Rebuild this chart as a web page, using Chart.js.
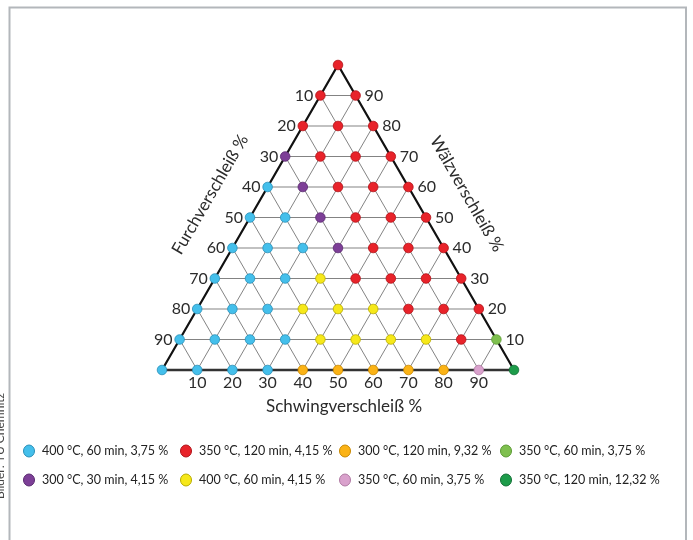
<!DOCTYPE html>
<html><head><meta charset="utf-8">
<script src="https://cdn.jsdelivr.net/npm/chart.js@4/dist/chart.umd.min.js"></script>
<style>html,body{margin:0;padding:0;background:#fff;}canvas{display:block;}</style>
</head><body>
<canvas id="c" width="693" height="540"></canvas>
<script>
// Points as [Furchverschleiß %, Schwingverschleiß %, Wälzverschleiß %]
const seriesLabels = [
  "400 °C, 60 min, 3,75 %", "350 °C, 120 min, 4,15 %", "300 °C, 120 min, 9,32 %", "350 °C, 60 min, 3,75 %",
  "300 °C, 30 min, 4,15 %", "400 °C, 60 min, 4,15 %", "350 °C, 60 min, 3,75 %", "350 °C, 120 min, 12,32 %"
];
const seriesColors = ["#44bfeb", "#e8232a", "#fbb316", "#7fc04f", "#7d3f97", "#f6e81a", "#d9a1cc", "#1d9c4a"];
const seriesBorders = ["#2a8fb8", "#b01218", "#c98800", "#5b9a33", "#5a2a70", "#b8ac00", "#b07aa3", "#137036"];

const blue400_60_375 = [[100,0,0],[90,10,0],[80,20,0],[70,30,0],[90,0,10],[80,10,10],[70,20,10],[60,30,10],
  [80,0,20],[70,10,20],[60,20,20],[70,0,30],[60,10,30],[50,20,30],[60,0,40],[50,10,40],[40,20,40],[50,0,50],[40,10,50],[40,0,60]];
const red350_120_415 = [[10,80,10],[20,60,20],[10,70,20],[0,80,20],[30,40,30],[20,50,30],[10,60,30],[0,70,30],
  [20,40,40],[10,50,40],[0,60,40],[20,30,50],[10,40,50],[0,50,50],[20,20,60],[10,30,60],[0,40,60],
  [20,10,70],[10,20,70],[0,30,70],[20,0,80],[10,10,80],[0,20,80],[10,0,90],[0,10,90],[0,0,100]];
const orange300_120_932 = [[60,40,0],[50,50,0],[40,60,0],[30,70,0],[20,80,0]];
const lgreen350_60_375 = [[0,90,10]];
const purple300_30_415 = [[30,30,40],[30,20,50],[30,10,60],[30,0,70]];
const yellow400_60_415 = [[50,40,10],[40,50,10],[30,60,10],[20,70,10],[50,30,20],[40,40,20],[30,50,20],[40,30,30]];
const pink350_60_375 = [[10,90,0]];
const dgreen350_120_1232 = [[0,100,0]];

const seriesPoints = [blue400_60_375, red350_120_415, orange300_120_932, lgreen350_60_375,
  purple300_30_415, yellow400_60_415, pink350_60_375, dgreen350_120_1232];

const tickValues = [10,20,30,40,50,60,70,80,90];
const titleBottom = "Schwingverschleiß %";
const titleLeft = "Furchverschleiß %";
const titleRight = "Wälzverschleiß %";
const creditText = "Bilder: TU Chemnitz";

const H = Math.sqrt(3) / 2;
function toXY(p) { const s = p[1], w = p[2]; return { x: s + w / 2, y: w * H }; }

const FONT = "Lato, 'Open Sans', sans-serif";

const ternaryPlugin = {
  id: 'ternary',
  beforeDatasetsDraw(chart) {
    const ctx = chart.ctx, xs = chart.scales.x, ys = chart.scales.y;
    const P = (x, y) => [xs.getPixelForValue(x), ys.getPixelForValue(y)];
    ctx.save();
    // frame
    ctx.strokeStyle = '#b3b7bb'; ctx.lineWidth = 2;
    ctx.strokeRect(9.5, 7.5, 676.5, 600);
    // grid
    ctx.strokeStyle = 'rgba(100,100,100,0.8)'; ctx.lineWidth = 1;
    ctx.beginPath();
    tickValues.forEach(t => {
      let a = P(t / 2, t * H), b = P(100 - t / 2, t * H);
      ctx.moveTo(a[0], a[1]); ctx.lineTo(b[0], b[1]);
      a = P(t, 0); b = P(t + (100 - t) / 2, (100 - t) * H);
      ctx.moveTo(a[0], a[1]); ctx.lineTo(b[0], b[1]);
      a = P(100 - t, 0); b = P((100 - t) / 2, (100 - t) * H);
      ctx.moveTo(a[0], a[1]); ctx.lineTo(b[0], b[1]);
    });
    ctx.stroke();
    // triangle
    const A = P(0, 0), B = P(100, 0), C = P(50, 100 * H);
    ctx.strokeStyle = '#111'; ctx.lineWidth = 2.2; ctx.lineJoin = 'miter';
    ctx.beginPath(); ctx.moveTo(A[0], A[1]); ctx.lineTo(C[0], C[1]); ctx.lineTo(B[0], B[1]); ctx.stroke();
    ctx.strokeStyle = '#333'; ctx.lineWidth = 2.6;
    ctx.beginPath(); ctx.moveTo(A[0], A[1]); ctx.lineTo(B[0], B[1]); ctx.stroke();
    ctx.restore();
  },
  afterDraw(chart) {
    const ctx = chart.ctx, xs = chart.scales.x, ys = chart.scales.y;
    const P = (x, y) => [xs.getPixelForValue(x), ys.getPixelForValue(y)];
    ctx.save();
    ctx.fillStyle = '#2b2b2b';
    ctx.font = "16px " + FONT;
    // bottom ticks: Schwing
    ctx.textAlign = 'center'; ctx.textBaseline = 'middle';
    tickValues.forEach(t => { const p = P(t, 0); ctx.fillText(String(t), p[0], p[1] + 13); });
    // left ticks: Furch (at S=0, W=100-f)
    ctx.textAlign = 'right';
    tickValues.forEach(f => { const w = 100 - f; const p = P(w / 2, w * H); ctx.fillText(String(f), p[0] - 7, p[1]); });
    // right ticks: Wälz (at F=0, W=w)
    ctx.textAlign = 'left';
    tickValues.forEach(w => { const p = P(100 - w / 2, w * H); ctx.fillText(String(w), p[0] + 9, p[1]); });
    // titles
    ctx.font = "17px " + FONT; ctx.textAlign = 'center'; ctx.textBaseline = 'middle';
    const bm = P(50, 0);
    ctx.fillText(titleBottom, bm[0] + 6, bm[1] + 37);
    const lm = P(25, 50 * H);
    ctx.save(); ctx.translate(lm[0] - 0.866 * 46, lm[1] - 0.5 * 46); ctx.rotate(-Math.PI / 3);
    ctx.fillText(titleLeft, 0, 0); ctx.restore();
    const rm = P(75, 50 * H);
    ctx.save(); ctx.translate(rm[0] + 0.866 * 47, rm[1] - 0.5 * 47); ctx.rotate(Math.PI / 3);
    ctx.fillText(titleRight, 0, 0); ctx.restore();
    // legend
    const colX = [29, 186, 345, 506], rowY = [451, 480];
    ctx.font = "12.5px " + FONT; ctx.textAlign = 'left'; ctx.textBaseline = 'middle';
    seriesLabels.forEach((lab, i) => {
      const cx = colX[i % 4], cy = rowY[Math.floor(i / 4)];
      ctx.beginPath(); ctx.ellipse(cx, cy, 5.5, 6, 0, 0, Math.PI * 2);
      ctx.fillStyle = seriesColors[i]; ctx.fill();
      ctx.strokeStyle = seriesBorders[i]; ctx.lineWidth = 1; ctx.stroke();
      ctx.fillStyle = '#222';
      ctx.fillText(lab, cx + 13, cy);
    });
    // credit (cut at left edge)
    ctx.save(); ctx.translate(4, 393); ctx.rotate(-Math.PI / 2);
    ctx.font = "12px " + FONT; ctx.fillStyle = '#444'; ctx.textAlign = 'right'; ctx.textBaseline = 'alphabetic';
    ctx.fillText(creditText, 0, 0); ctx.restore();
    ctx.restore();
  }
};

new Chart(document.getElementById('c'), {
  type: 'scatter',
  data: {
    datasets: seriesPoints.map((pts, i) => ({
      label: seriesLabels[i],
      data: pts.map(toXY),
      backgroundColor: seriesColors[i],
      borderColor: seriesBorders[i],
      borderWidth: 0.8,
      pointRadius: 4.8,
      clip: false
    }))
  },
  options: {
    responsive: false, animation: false, devicePixelRatio: 1,
    layout: { padding: { left: 162, right: 179, top: 65, bottom: 170 } },
    scales: {
      x: { type: 'linear', min: 0, max: 100, display: false },
      y: { type: 'linear', min: 0, max: 100 * H, display: false }
    },
    plugins: { legend: { display: false }, tooltip: { enabled: false } }
  },
  plugins: [ternaryPlugin]
});
</script>
</body></html>
